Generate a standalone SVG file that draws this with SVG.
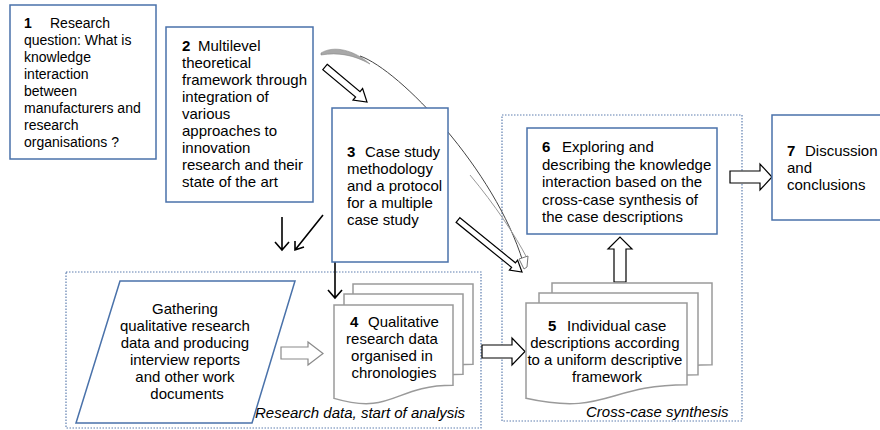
<svg xmlns="http://www.w3.org/2000/svg" width="880" height="430" viewBox="0 0 880 430">
<style>
text{font-family:"Liberation Sans",Arial,sans-serif;font-size:15px;fill:#000}
.box{fill:#fff;stroke:#4a72aa;stroke-width:1.5}
.region{fill:none;stroke:#5f7fb0;stroke-width:1.2;stroke-dasharray:1.5 1.5}
.doc{fill:#fff;stroke:#9a9a9a;stroke-width:1.5}
.blk{fill:#fff;stroke:#000;stroke-width:1.2}
.gry{fill:#fff;stroke:#8a8a8a;stroke-width:1.2}
.thin{fill:none;stroke:#000;stroke-width:1.6}
.b{font-weight:bold}
.it{font-style:italic}
</style>
<rect width="880" height="430" fill="#fff"/>

<g id="region-research-data">
<rect class="region" x="66" y="272" width="415" height="156"/>
<text class="it" x="255" y="418">Research data, start of analysis</text>
</g>
<g id="region-cross-case">
<rect class="region" x="502" y="115" width="240" height="306"/>
<text class="it" x="586" y="417">Cross-case synthesis</text>
</g>

<g id="connectors">
<path d="M321,53 C334,45 354,50 370,64 C354,55 338,52 321,55 Z" fill="#a8a8a8" stroke="#888" stroke-width="0.6"/>
<path d="M360,56 C400,70 495,170 523,262" fill="none" stroke="#444" stroke-width="1"/>
<path d="M470,175 C495,205 515,235 527,258" fill="none" stroke="#999" stroke-width="1"/>
<polygon points="519,259 528,256 527,267 524,269" fill="#fff" stroke="#777" stroke-width="1"/>
<polygon class="blk" points="327.2,64.3 360,91.6 362.6,88.5 367,102 353,100.1 355.6,97 322.8,69.7"/>
<polygon class="blk" points="459.9,217.7 515.4,262.8 517.6,260.1 522,272 509.4,270.1 511.6,267.4 456.1,222.3"/>
<path class="thin" d="M282,217 V250 M275,242 L282,250 L289,242"/>
<path class="thin" d="M323,215 L295,250 M295,241 L295,250 L304,247"/>
<path class="thin" d="M335,262 V298 M328,290 L335,298 L342,290"/>
<polygon class="gry" points="281,347 308,347 308,342 323,353.5 308,365 308,359 281,359"/>
<polygon class="blk" points="482,345 512,345 512,338 525,351.5 512,365 512,358 482,358"/>
<polygon class="blk" points="614,282 614,249 608,249 620,237 632,249 626,249 626,282"/>
<polygon class="blk" points="730,171 760,171 760,164 772,177 760,190 760,183 730,183"/>
</g>

<g id="node1">
<rect class="box" x="10" y="5" width="146" height="154"/>
<text style="font-size:14px">
<tspan x="24" y="28" class="b">1</tspan><tspan x="50" y="28">Research</tspan>
<tspan x="24" y="45">question: What is</tspan>
<tspan x="24" y="62">knowledge</tspan>
<tspan x="24" y="79">interaction</tspan>
<tspan x="24" y="96">between</tspan>
<tspan x="24" y="113">manufacturers and</tspan>
<tspan x="24" y="130">research</tspan>
<tspan x="24" y="147">organisations ?</tspan>
</text>
</g>

<g id="node2">
<rect class="box" x="166" y="27" width="147" height="175"/>
<text>
<tspan x="182" y="51" class="b">2</tspan><tspan x="198" y="51">Multilevel</tspan>
<tspan x="182" y="68">theoretical</tspan>
<tspan x="182" y="85">framework through</tspan>
<tspan x="182" y="102">integration of</tspan>
<tspan x="182" y="119">various</tspan>
<tspan x="182" y="136">approaches to</tspan>
<tspan x="182" y="153">innovation</tspan>
<tspan x="182" y="170">research and their</tspan>
<tspan x="182" y="187">state of the art</tspan>
</text>
</g>

<g id="node3">
<rect class="box" x="332" y="108" width="116" height="154"/>
<text>
<tspan x="347" y="157" class="b">3</tspan><tspan x="365" y="157">Case study</tspan>
<tspan x="347" y="174">methodology</tspan>
<tspan x="347" y="191">and a protocol</tspan>
<tspan x="347" y="208">for a multiple</tspan>
<tspan x="347" y="225">case study</tspan>
</text>
</g>

<g id="gathering">
<polygon points="120,281 295,281 252,423 76,423" fill="#fff" stroke="#4a72aa" stroke-width="1.5"/>
<text text-anchor="middle">
<tspan x="187" y="314">Gathering</tspan>
<tspan x="187" y="331">qualitative research</tspan>
<tspan x="187" y="348">data and producing</tspan>
<tspan x="187" y="365">interview reports</tspan>
<tspan x="187" y="382">and other work</tspan>
<tspan x="187" y="399">documents</tspan>
</text>
</g>

<g id="node4">
<path class="doc" d="M353,284 H473 V364.2 C413,364.2 413,394.7 353,377.4 Z"/>
<path class="doc" d="M344,294 H463 V374.2 C403.5,374.2 403.5,404.7 344,387.4 Z"/>
<path class="doc" d="M334,305 H453 V385.2 C393.5,385.2 393.5,415.7 334,398.4 Z"/>
<text>
<tspan x="350" y="327" class="b">4</tspan><tspan x="368" y="327">Qualitative</tspan>
</text>
<text text-anchor="middle">
<tspan x="394" y="344">research data</tspan>
<tspan x="394" y="361">organised in</tspan>
<tspan x="394" y="378">chronologies</tspan>
</text>
</g>

<g id="node5">
<path class="doc" d="M552,283 H712 V364.8 C632,364.8 632,396 552,378.3 Z"/>
<path class="doc" d="M539,293 H698 V374.8 C618.5,374.8 618.5,406 539,388.3 Z"/>
<path class="doc" d="M526,303 H687 V384.8 C606.5,384.8 606.5,416 526,398.3 Z"/>
<text>
<tspan x="548" y="331" class="b">5</tspan><tspan x="567" y="331">Individual case</tspan>
</text>
<text text-anchor="middle">
<tspan x="607" y="348">descriptions according</tspan>
<tspan x="607" y="365">to a uniform descriptive</tspan>
<tspan x="607" y="382">framework</tspan>
</text>
</g>

<g id="node6">
<rect class="box" x="527" y="128" width="190" height="106"/>
<text>
<tspan x="542" y="152" class="b">6</tspan><tspan x="562" y="152">Exploring and</tspan>
<tspan x="542" y="169.5">describing the knowledge</tspan>
<tspan x="542" y="187">interaction based on the</tspan>
<tspan x="542" y="204.5">cross-case synthesis of</tspan>
<tspan x="542" y="222">the case descriptions</tspan>
</text>
</g>

<g id="node7">
<rect class="box" x="772" y="115" width="120" height="105"/>
<text>
<tspan x="787" y="156" class="b">7</tspan><tspan x="805" y="156">Discussion</tspan>
<tspan x="787" y="173">and</tspan>
<tspan x="787" y="190">conclusions</tspan>
</text>
</g>
</svg>
